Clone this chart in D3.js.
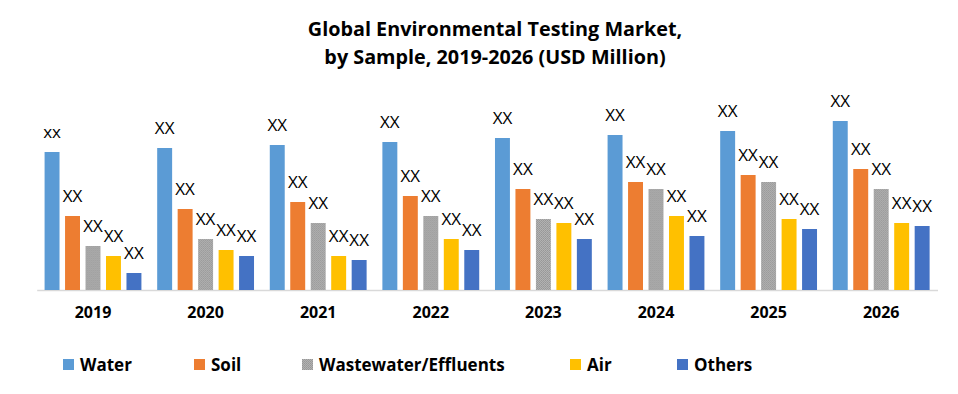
<!DOCTYPE html>
<html>
<head>
<meta charset="utf-8">
<script src="https://cdn.jsdelivr.net/npm/d3@7"></script>
<style>
  html, body { margin: 0; padding: 0; background: #fff; }
  #chart { width: 958px; height: 394px; }
</style>
</head>
<body>
<div id="chart"></div>
<script>
const years = ["2019", "2020", "2021", "2022", "2023", "2024", "2025", "2026"];
const seriesNames = ["Water", "Soil", "Wastewater/Effluents", "Air", "Others"];

// values (relative units, no axis shown)
const water = [138, 142, 145, 148, 152, 155, 159, 169];
const soil = [74, 81, 88, 94, 101, 108, 115, 121];
const wastewater = [44, 51, 67, 74, 71, 101, 108, 101];
const air = [34, 40, 34, 51, 67, 74, 71, 67];
const others = [17, 34, 30, 40, 51, 54, 61, 64];

const waterLabels = ["xx", "XX", "XX", "XX", "XX", "XX", "XX", "XX"];
const otherLabels = ["XX", "XX", "XX", "XX", "XX", "XX", "XX", "XX"];

const COLORS = ["#5b9bd5", "#ed7d31", "url(#grayTex)", "#ffc000", "#4472c4"];

const allSeries = [water, soil, wastewater, air, others];
const allLabels = [waterLabels, otherLabels, otherLabels, otherLabels, otherLabels];

const width = 958;
const height = 394;
const baseY = 290;

const svg = d3.select("#chart")
  .append("svg")
  .attr("width", width)
  .attr("height", height);

const defs = svg.append("defs");
const pat = defs.append("pattern")
  .attr("id", "grayTex")
  .attr("patternUnits", "userSpaceOnUse")
  .attr("width", 2)
  .attr("height", 2);
pat.append("rect").attr("width", 2).attr("height", 2).attr("fill", "#b2b2b2");
pat.append("rect").attr("width", 1).attr("height", 1).attr("fill", "#979797");
pat.append("rect").attr("x", 1).attr("y", 1).attr("width", 1).attr("height", 1).attr("fill", "#9d9d9d");

const x0 = d3.scaleBand()
  .domain(years)
  .range([36.7, 937.5])
  .paddingInner(0.14)
  .paddingOuter(0.07);

const x1 = d3.scaleBand()
  .domain(d3.range(seriesNames.length))
  .range([0, x0.bandwidth()])
  .paddingInner(0.27)
  .paddingOuter(0);

const y = d3.scaleLinear()
  .domain([0, 200])
  .range([baseY, baseY - 200]);

// title
const title = svg.append("text")
  .attr("text-anchor", "middle")
  .attr("font-family", "'Open Sans', sans-serif")
  .attr("font-weight", 700)
  .attr("font-size", 19.8)
  .attr("fill", "#000");
title.append("tspan").attr("x", 495).attr("y", 36).text("Global Environmental Testing Market,");
title.append("tspan").attr("x", 495).attr("y", 64).text("by Sample, 2019-2026 (USD Million)");

// x axis
const xAxis = svg.append("g")
  .attr("transform", `translate(0,${baseY})`)
  .call(d3.axisBottom(x0).tickSize(0).tickPadding(17));
xAxis.select(".domain").attr("stroke", "#d9d9d9").attr("stroke-width", 1.5);
xAxis.selectAll("text")
  .attr("font-family", "'Open Sans', sans-serif")
  .attr("font-weight", 700)
  .attr("font-size", 16)
  .attr("fill", "#000");

const rows = years.map((yr, i) => ({
  year: yr,
  items: allSeries.map((s, k) => ({ k, v: s[i], label: allLabels[k][i] })),
}));

const groups = svg.append("g").selectAll("g")
  .data(rows)
  .join("g")
  .attr("transform", (d) => `translate(${x0(d.year)},0)`);

groups.selectAll("rect")
  .data((d) => d.items)
  .join("rect")
  .attr("x", (d) => x1(d.k))
  .attr("y", (d) => y(d.v))
  .attr("width", x1.bandwidth())
  .attr("height", (d) => baseY - y(d.v))
  .attr("fill", (d) => COLORS[d.k]);

groups.selectAll("text.lbl")
  .data((d) => d.items)
  .join("text")
  .attr("class", "lbl")
  .attr("x", (d) => x1(d.k) + x1.bandwidth() / 2)
  .attr("y", (d) => y(d.v) - 14)
  .attr("text-anchor", "middle")
  .attr("font-family", "'Open Sans', sans-serif")
  .attr("font-size", 17)
  .attr("fill", "#000")
  .text((d) => d.label);

// legend
const legendX = [63, 194, 302, 570, 677];
const legend = svg.append("g").selectAll("g")
  .data(seriesNames)
  .join("g")
  .attr("transform", (d, i) => `translate(${legendX[i]},359)`);

legend.append("rect")
  .attr("width", 11)
  .attr("height", 11)
  .attr("fill", (d, i) => COLORS[i]);

legend.append("text")
  .attr("x", 17)
  .attr("y", 12)
  .attr("font-family", "'Open Sans', sans-serif")
  .attr("font-weight", 700)
  .attr("font-size", 17)
  .attr("fill", "#000")
  .text((d) => d);
</script>
</body>
</html>
